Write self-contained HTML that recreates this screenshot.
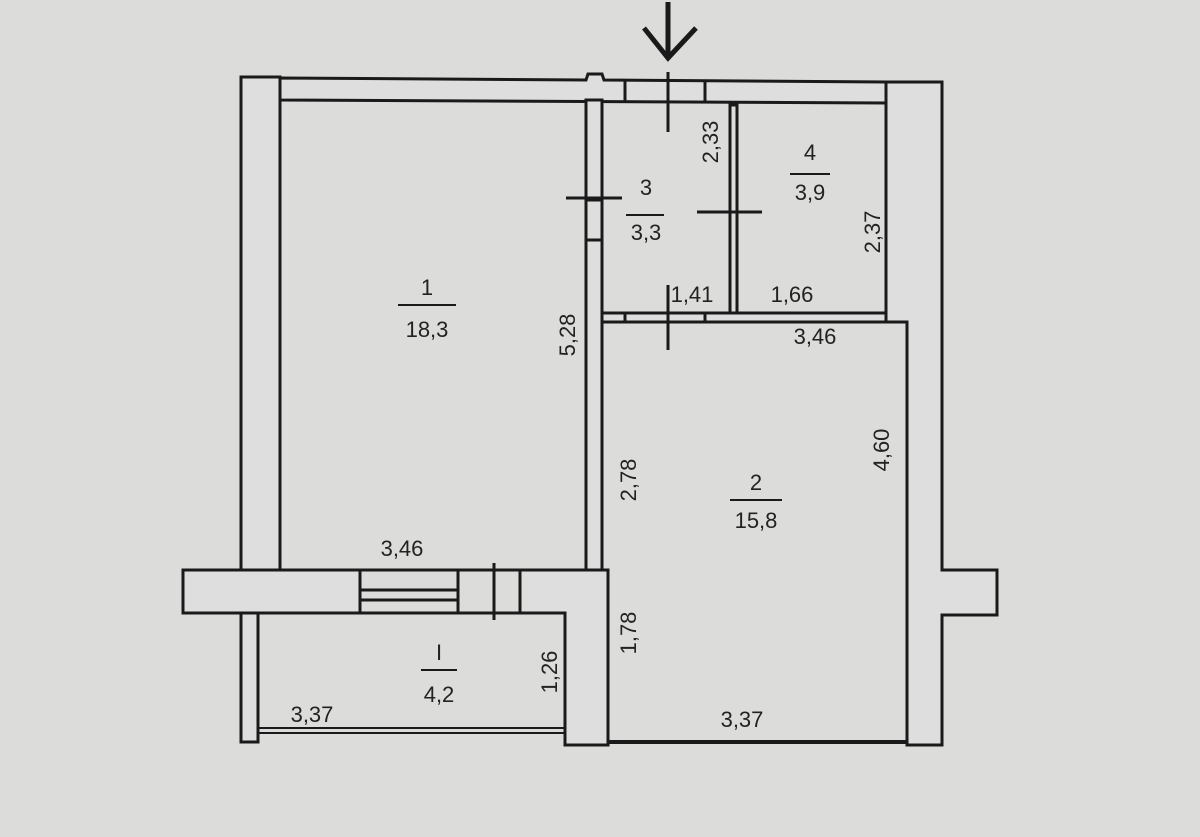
<!DOCTYPE html>
<html><head><meta charset="utf-8"><style>
html,body{margin:0;padding:0;background:#dcdcda;}
svg{display:block}
text{font-family:"Liberation Sans",sans-serif;font-size:22px;fill:#222;}
</style></head><body>
<svg width="1200" height="837" viewBox="0 0 1200 837" xmlns="http://www.w3.org/2000/svg">
<rect width="1200" height="837" fill="#dcdcda"/>
<g fill="#dedede" stroke="#1a1a1a" stroke-width="3" stroke-linejoin="miter">
<path d="M241,77 L280,77 L280,570 L241,570 Z"/>
<path d="M280,78 L586,80 L588,74 L602,74 L604,80 L886,82 L886,103 L280,100 Z"/>
<path d="M586,100 L602,100 L602,570 L586,570 Z"/>
<path d="M886,82 L942,82 L942,570 L997,570 L997,615 L942,615 L942,745 L907,745 L907,322 L886,322 Z"/>
<path d="M183,570 L360,570 L360,613 L183,613 Z"/>
<path d="M241,613 L258,613 L258,742 L241,742 Z"/>
<path d="M520,570 L608,570 L608,745 L565,745 L565,613 L520,613 Z"/>
<path d="M730,105 L737,105 L737,313 L730,313 Z"/>
<path d="M602,313 L886,313 L886,322 L602,322 Z"/>
</g>
<g stroke="#1a1a1a" stroke-width="3" fill="none">
<line x1="360" y1="570" x2="520" y2="570"/>
<line x1="360" y1="613" x2="520" y2="613"/>
<line x1="360" y1="590" x2="458" y2="590"/>
<line x1="360" y1="600" x2="458" y2="600"/>
<line x1="458" y1="570" x2="458" y2="613"/>
<line x1="494" y1="563" x2="494" y2="620"/>
<line x1="258" y1="728" x2="565" y2="728" stroke-width="2"/>
<line x1="258" y1="733" x2="565" y2="733" stroke-width="2"/>
<line x1="608" y1="742" x2="907" y2="742" stroke-width="4"/>
<line x1="625" y1="80" x2="625" y2="103"/>
<line x1="705" y1="81" x2="705" y2="103"/>
<line x1="668" y1="72" x2="668" y2="132"/>
<line x1="566" y1="198" x2="622" y2="198"/>
<line x1="697" y1="212" x2="762" y2="212"/>
<line x1="668" y1="285" x2="668" y2="350"/>
<line x1="625" y1="313" x2="625" y2="322"/>
<line x1="705" y1="313" x2="705" y2="322"/>
<line x1="586" y1="200" x2="602" y2="200"/>
<line x1="586" y1="240" x2="602" y2="240"/>
<line x1="668" y1="2" x2="668" y2="58" stroke-width="5"/>
<polyline points="644,28 668,58 696,28" stroke-width="5"/>
<line x1="398" y1="305" x2="456" y2="305" stroke-width="2"/>
<line x1="626" y1="215" x2="664" y2="215" stroke-width="2"/>
<line x1="790" y1="174" x2="830" y2="174" stroke-width="2"/>
<line x1="730" y1="500" x2="782" y2="500" stroke-width="2"/>
<line x1="421" y1="670" x2="457" y2="670" stroke-width="2"/>
</g>
<g text-anchor="middle">
<text x="427" y="295">1</text><text x="427" y="337">18,3</text>
<text x="646" y="195">3</text><text x="646" y="240">3,3</text>
<text x="810" y="160">4</text><text x="810" y="200">3,9</text>
<text x="756" y="490">2</text><text x="756" y="528">15,8</text>
<text x="439" y="660">I</text><text x="439" y="702">4,2</text>
<text x="402" y="556">3,46</text>
<text x="692" y="302">1,41</text>
<text x="792" y="302">1,66</text>
<text x="815" y="344">3,46</text>
<text x="742" y="727">3,37</text>
<text x="312" y="722">3,37</text>
<text transform="translate(718,142) rotate(-90)">2,33</text>
<text transform="translate(880,232) rotate(-90)">2,37</text>
<text transform="translate(575,335) rotate(-90)">5,28</text>
<text transform="translate(636,480) rotate(-90)">2,78</text>
<text transform="translate(889,450) rotate(-90)">4,60</text>
<text transform="translate(636,633) rotate(-90)">1,78</text>
<text transform="translate(557,672) rotate(-90)">1,26</text>
</g>
</svg>
</body></html>
